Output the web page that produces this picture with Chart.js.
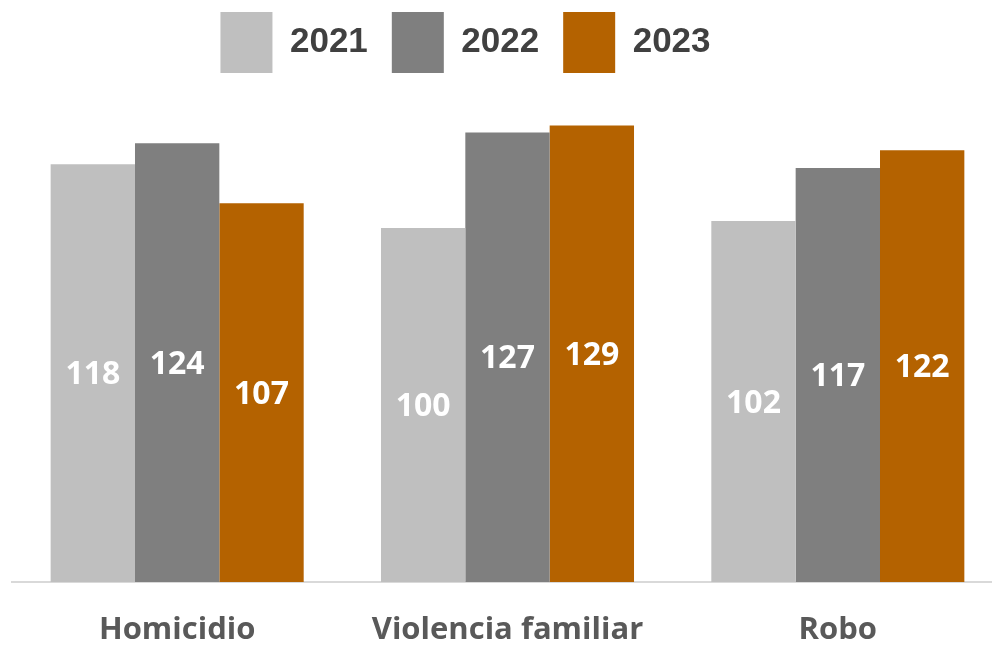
<!DOCTYPE html>
<html>
<head>
<meta charset="utf-8">
<script src="https://cdn.jsdelivr.net/npm/chart.js@4.4.1/dist/chart.umd.min.js"></script>
<style>
    body { margin: 0; background: #ffffff; overflow: hidden; }
    #wrap { position: relative; width: 1012px; height: 645px; }
</style>
</head>
<body>
<div id="wrap"><canvas id="myChart"></canvas></div>
<script>
const categorias = ['Homicidio', 'Violencia familiar', 'Robo'];
const anios = ['2021', '2022', '2023'];
const datos2021 = [118, 100, 102];
const datos2022 = [124, 127, 117];
const datos2023 = [107, 129, 122];
const colores = ['#bfbfbf', '#7f7f7f', '#b46200'];

// numbers written in the middle of each bar
const etiquetasBarras = {
    id: 'etiquetasBarras',
    afterDatasetsDraw(chart) {
        const ctx = chart.ctx;
        ctx.save();
        ctx.font = 'bold 32px "Open Sans"';
        ctx.fillStyle = '#ffffff';
        ctx.textAlign = 'center';
        ctx.textBaseline = 'middle';
        chart.data.datasets.forEach(function(ds, i) {
            chart.getDatasetMeta(i).data.forEach(function(bar, j) {
                const p = bar.getProps(['x', 'y', 'base'], true);
                ctx.fillText(ds.data[j], p.x, (p.y + p.base) / 2 + 2);
            });
        });
        ctx.restore();
    }
};

// move the legend up and a bit to the left
const moverLeyenda = {
    id: 'moverLeyenda',
    afterLayout(chart) {
        const lg = chart.legend;
        lg.left -= 42;
        lg.right -= 42;
        lg.top -= 12;
        lg.bottom -= 12;
    }
};

window.addEventListener('load', function() {
    const ctx = document.getElementById('myChart');
    new Chart(ctx, {
        type: 'bar',
        data: {
            labels: categorias,
            datasets: [
                { label: anios[0], data: datos2021, backgroundColor: colores[0] },
                { label: anios[1], data: datos2022, backgroundColor: colores[1] },
                { label: anios[2], data: datos2023, backgroundColor: colores[2] }
            ]
        },
        options: {
            responsive: true,
            maintainAspectRatio: false,
            animation: false,
            layout: { padding: { left: 12, right: 9, top: 0, bottom: -34 } },
            datasets: {
                bar: { categoryPercentage: 0.766, barPercentage: 1.0 }
            },
            plugins: {
                tooltip: { enabled: false },
                legend: {
                    position: 'top',
                    labels: {
                        boxWidth: 52,
                        boxHeight: 61,
                        padding: 24,
                        color: '#404040',
                        font: { family: '"Liberation Sans", Arial', size: 35, weight: 'bold' }
                    }
                }
            },
            scales: {
                x: {
                    grid: { display: false, drawTicks: false },
                    border: { color: '#d9d9d9', width: 2 },
                    ticks: {
                        color: '#595959',
                        padding: 33,
                        font: { family: '"Open Sans"', size: 31, weight: 'bold', lineHeight: 1 }
                    }
                },
                y: {
                    display: false,
                    min: 0,
                    max: 137.6
                }
            }
        },
        plugins: [etiquetasBarras, moverLeyenda]
    });
});
</script>
</body>
</html>
